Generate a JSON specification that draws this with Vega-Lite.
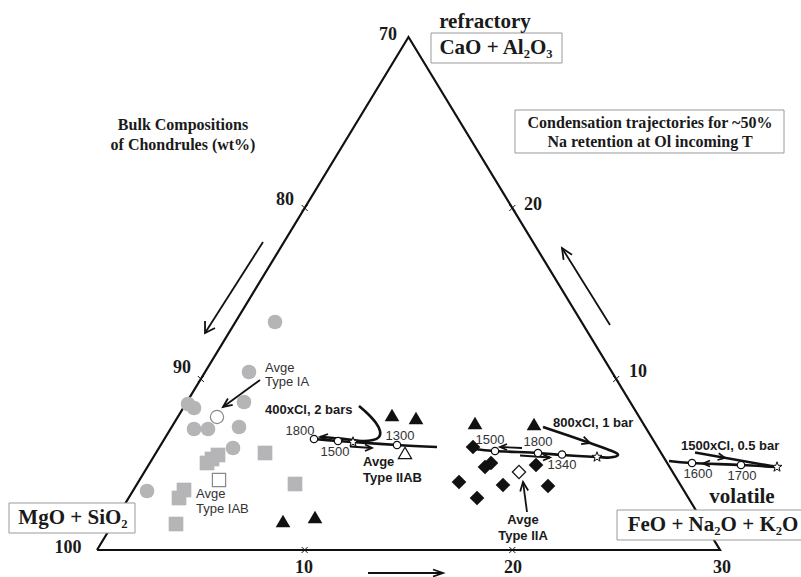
{
  "$schema": "https://vega.github.io/schema/vega-lite/v6.json",
  "width": 801,
  "height": 577,
  "padding": 0,
  "autosize": {"type": "none"},
  "background": "white",
  "config": {"view": {"stroke": null}},
  "datasets": {
    "tri": [
      {"x": 0, "y": 0, "o": 0}, {"x": 30, "y": 0, "o": 1}, {"x": 15, "y": 30, "o": 2}, {"x": 0, "y": 0, "o": 3}
    ],
    "boxes": [
      {"x": 16.083, "x2": 22.392, "y": 30.234, "y2": 28.480},
      {"x": 20.128, "x2": 33.082, "y": 25.731, "y2": 23.217},
      {"x": -4.238, "x2": 1.830, "y": 2.749, "y2": 0.994},
      {"x": 25.040, "x2": 34.093, "y": 2.339, "y2": 0.585}
    ],
    "traj": [
      {"id": "a1", "o": 0, "x": 10.449, "y": 6.491},
      {"id": "a1", "o": 1, "x": 11.605, "y": 6.374},
      {"id": "a1", "o": 2, "x": 12.327, "y": 6.316},
      {"id": "a1", "o": 3, "x": 14.446, "y": 6.140},
      {"id": "a1", "o": 4, "x": 16.372, "y": 6.023},
      {"id": "a2", "o": 0, "x": 12.616, "y": 8.421},
      {"id": "a2", "o": 1, "x": 13.050, "y": 7.953},
      {"id": "a2", "o": 2, "x": 13.435, "y": 7.427},
      {"id": "a2", "o": 3, "x": 13.628, "y": 6.959},
      {"id": "a2", "o": 4, "x": 13.579, "y": 6.608},
      {"id": "a2", "o": 5, "x": 13.291, "y": 6.433},
      {"id": "a2", "o": 6, "x": 12.761, "y": 6.374},
      {"id": "a2", "o": 7, "x": 11.942, "y": 6.491},
      {"id": "a2", "o": 8, "x": 10.738, "y": 6.608},
      {"id": "b1", "o": 0, "x": 21.477, "y": 7.193},
      {"id": "b1", "o": 1, "x": 23.740, "y": 6.257},
      {"id": "b1", "o": 2, "x": 24.799, "y": 5.789},
      {"id": "b1", "o": 3, "x": 25.088, "y": 5.556},
      {"id": "b1", "o": 4, "x": 24.703, "y": 5.409},
      {"id": "b1", "o": 5, "x": 24.077, "y": 5.439},
      {"id": "b1", "o": 6, "x": 22.392, "y": 5.556},
      {"id": "b1", "o": 7, "x": 21.236, "y": 5.673},
      {"id": "b1", "o": 8, "x": 19.165, "y": 5.789},
      {"id": "b1", "o": 9, "x": 18.202, "y": 5.906},
      {"id": "c1", "o": 0, "x": 28.796, "y": 5.702},
      {"id": "c1", "o": 1, "x": 32.745, "y": 4.854},
      {"id": "c2", "o": 0, "x": 32.745, "y": 4.854},
      {"id": "c2", "o": 1, "x": 31.011, "y": 4.971},
      {"id": "c2", "o": 2, "x": 28.652, "y": 5.088},
      {"id": "c2", "o": 3, "x": 27.544, "y": 5.205}
    ],
    "arrows": [
      {"id": "p1", "o": 0, "x": 11.124, "y": 6.784}, {"id": "p1", "o": 1, "x": 10.738, "y": 6.608}, {"id": "p1", "o": 2, "x": 11.124, "y": 6.433},
      {"id": "p2", "o": 0, "x": 12.183, "y": 6.053}, {"id": "p2", "o": 1, "x": 13.242, "y": 5.965},
      {"id": "p3", "o": 0, "x": 12.905, "y": 6.170}, {"id": "p3", "o": 1, "x": 13.242, "y": 5.965}, {"id": "p3", "o": 2, "x": 12.905, "y": 5.789},
      {"id": "p4", "o": 0, "x": 23.311, "y": 6.187}, {"id": "p4", "o": 1, "x": 23.740, "y": 6.257}, {"id": "p4", "o": 2, "x": 23.436, "y": 6.632},
      {"id": "p5", "o": 0, "x": 20.465, "y": 5.965}, {"id": "p5", "o": 1, "x": 19.406, "y": 6.023},
      {"id": "p6", "o": 0, "x": 19.743, "y": 6.199}, {"id": "p6", "o": 1, "x": 19.406, "y": 6.023}, {"id": "p6", "o": 2, "x": 19.743, "y": 5.848},
      {"id": "p7", "o": 0, "x": 20.369, "y": 5.526}, {"id": "p7", "o": 1, "x": 21.814, "y": 5.409},
      {"id": "p8", "o": 0, "x": 21.477, "y": 5.585}, {"id": "p8", "o": 1, "x": 21.814, "y": 5.409}, {"id": "p8", "o": 2, "x": 21.477, "y": 5.234},
      {"id": "p9", "o": 0, "x": 29.880, "y": 5.263}, {"id": "p9", "o": 1, "x": 30.241, "y": 5.392}, {"id": "p9", "o": 2, "x": 29.937, "y": 5.661},
      {"id": "p10", "o": 0, "x": 29.518, "y": 5.234}, {"id": "p10", "o": 1, "x": 29.181, "y": 5.059}, {"id": "p10", "o": 2, "x": 29.518, "y": 4.883},
      {"id": "q1", "o": 0, "x": 7.994, "y": 18.012}, {"id": "q1", "o": 1, "x": 5.201, "y": 12.690},
      {"id": "q2", "o": 0, "x": 5.201, "y": 13.392}, {"id": "q2", "o": 1, "x": 5.201, "y": 12.690}, {"id": "q2", "o": 2, "x": 5.682, "y": 12.983},
      {"id": "q3", "o": 0, "x": 24.703, "y": 13.158}, {"id": "q3", "o": 1, "x": 22.392, "y": 17.661},
      {"id": "q4", "o": 0, "x": 22.873, "y": 17.269}, {"id": "q4", "o": 1, "x": 22.392, "y": 17.661}, {"id": "q4", "o": 2, "x": 22.469, "y": 16.965},
      {"id": "q5", "o": 0, "x": 13.050, "y": -1.345}, {"id": "q5", "o": 1, "x": 16.661, "y": -1.345},
      {"id": "q6", "o": 0, "x": 16.180, "y": -1.140}, {"id": "q6", "o": 1, "x": 16.661, "y": -1.345}, {"id": "q6", "o": 2, "x": 16.180, "y": -1.550},
      {"id": "q7", "o": 0, "x": 7.849, "y": 9.942}, {"id": "q7", "o": 1, "x": 6.067, "y": 8.363},
      {"id": "q8", "o": 0, "x": 6.303, "y": 8.860}, {"id": "q8", "o": 1, "x": 6.067, "y": 8.363}, {"id": "q8", "o": 2, "x": 6.535, "y": 8.486},
      {"id": "q9", "o": 0, "x": 20.706, "y": 2.222}, {"id": "q9", "o": 1, "x": 20.514, "y": 3.977},
      {"id": "q10", "o": 0, "x": 20.764, "y": 3.485}, {"id": "q10", "o": 1, "x": 20.514, "y": 3.977}, {"id": "q10", "o": 2, "x": 20.379, "y": 3.427}
    ],
    "pts": [
      {"type": "IA", "x": 8.571, "y": 13.333},
      {"type": "IA", "x": 7.319, "y": 10.409},
      {"type": "IA", "x": 4.382, "y": 8.538},
      {"type": "IA", "x": 4.671, "y": 8.304},
      {"type": "IA", "x": 7.079, "y": 8.655},
      {"type": "IA", "x": 4.671, "y": 7.076},
      {"type": "IA", "x": 5.345, "y": 7.076},
      {"type": "IA", "x": 6.838, "y": 7.193},
      {"type": "IA", "x": 6.549, "y": 5.965},
      {"type": "IA", "x": 2.408, "y": 3.450},
      {"type": "IB", "x": 8.090, "y": 5.673},
      {"type": "IB", "x": 9.534, "y": 3.860},
      {"type": "IB", "x": 3.804, "y": 1.520},
      {"type": "IB", "x": 5.827, "y": 5.556},
      {"type": "IB", "x": 5.538, "y": 5.322},
      {"type": "IB", "x": 5.297, "y": 5.088},
      {"type": "IB", "x": 4.189, "y": 3.509},
      {"type": "IB", "x": 3.949, "y": 3.041},
      {"type": "IIAB", "x": 14.205, "y": 7.895},
      {"type": "IIAB", "x": 15.361, "y": 7.719},
      {"type": "IIAB", "x": 18.202, "y": 7.427},
      {"type": "IIAB", "x": 21.043, "y": 7.368},
      {"type": "IIAB", "x": 8.957, "y": 1.696},
      {"type": "IIAB", "x": 10.498, "y": 1.930},
      {"type": "IIA", "x": 18.106, "y": 6.023},
      {"type": "IIA", "x": 18.684, "y": 4.854},
      {"type": "IIA", "x": 18.973, "y": 5.088},
      {"type": "IIA", "x": 17.432, "y": 3.977},
      {"type": "IIA", "x": 18.299, "y": 3.041},
      {"type": "IIA", "x": 19.551, "y": 3.801},
      {"type": "IIA", "x": 21.140, "y": 4.971},
      {"type": "IIA", "x": 21.717, "y": 3.743}
    ],
    "avg": [
      {"type": "IA", "x": 5.778, "y": 7.778},
      {"type": "IB", "x": 5.875, "y": 4.094},
      {"type": "IIAB", "x": 14.831, "y": 5.673},
      {"type": "IIA", "x": 20.321, "y": 4.561}
    ],
    "tpts": [
      {"x": 10.449, "y": 6.491}, {"x": 11.605, "y": 6.374}, {"x": 14.446, "y": 6.140},
      {"x": 19.165, "y": 5.789}, {"x": 21.236, "y": 5.673}, {"x": 22.392, "y": 5.585},
      {"x": 28.652, "y": 5.088}, {"x": 31.011, "y": 4.971}
    ],
    "stars": [
      {"x": 12.327, "y": 6.316}, {"x": 24.077, "y": 5.439}, {"x": 32.745, "y": 4.854}
    ],
    "ticks": [
      {"x": 5, "y": 10}, {"x": 10, "y": 20}, {"x": 25, "y": 10}, {"x": 20, "y": 20}, {"x": 10, "y": 0}, {"x": 20, "y": 0}
    ],
    "serifBig": [
      {"t": "refractory", "x": 18.684, "y": 30.877},
      {"t": "CaO + Al₂O₃", "x": 19.213, "y": 29.357},
      {"t": "MgO + SiO₂", "x": -1.156, "y": 1.871},
      {"t": "FeO + Na₂O + K₂O", "x": 29.663, "y": 1.462},
      {"t": "volatile", "x": 31.059, "y": 3.099}
    ],
    "serifTicks": [
      {"t": "70", "x": 14.013, "y": 30.117},
      {"t": "80", "x": 9.053, "y": 20.468},
      {"t": "90", "x": 4.093, "y": 10.643},
      {"t": "100", "x": -1.396, "y": 0.117},
      {"t": "10", "x": 9.968, "y": -1.053},
      {"t": "20", "x": 20.032, "y": -1.053},
      {"t": "30", "x": 30.096, "y": -1.053},
      {"t": "20", "x": 20.995, "y": 20.176},
      {"t": "10", "x": 26.051, "y": 10.409}
    ],
    "serifMid": [
      {"t": "Bulk Compositions", "x": 4.141, "y": 24.854},
      {"t": "of Chondrules (wt%)", "x": 4.141, "y": 23.684},
      {"t": "Condensation trajectories for ~50%", "x": 26.629, "y": 24.971},
      {"t": "Na retention at Ol incoming T", "x": 26.629, "y": 23.860}
    ],
    "sansLeft": [
      {"t": "Avge", "x": 8.090, "y": 10.643},
      {"t": "Type IA", "x": 8.090, "y": 9.824},
      {"t": "Avge", "x": 4.767, "y": 3.275},
      {"t": "Type IAB", "x": 4.767, "y": 2.398}
    ],
    "sansCenter": [
      {"t": "1800", "x": 9.775, "y": 6.959},
      {"t": "1500", "x": 11.461, "y": 5.731},
      {"t": "1300", "x": 14.591, "y": 6.667},
      {"t": "1500", "x": 18.925, "y": 6.433},
      {"t": "1800", "x": 21.236, "y": 6.316},
      {"t": "1340", "x": 22.392, "y": 4.971},
      {"t": "1600", "x": 28.941, "y": 4.444},
      {"t": "1700", "x": 31.059, "y": 4.327}
    ],
    "boldLeft": [
      {"t": "400xCl, 2 bars", "x": 8.090, "y": 8.187},
      {"t": "Avge", "x": 12.809, "y": 5.146},
      {"t": "Type IIAB", "x": 12.809, "y": 4.211},
      {"t": "800xCl, 1 bar", "x": 21.958, "y": 7.427},
      {"t": "1500xCl, 0.5 bar", "x": 28.122, "y": 6.082}
    ],
    "boldCenter": [
      {"t": "Avge", "x": 20.514, "y": 1.754},
      {"t": "Type IIA", "x": 20.514, "y": 0.819}
    ]
  },
  "encoding": {
    "x": {"field": "x", "type": "quantitative", "scale": {"domain": [-4.671, 33.9], "nice": false, "zero": false}, "axis": null},
    "y": {"field": "y", "type": "quantitative", "scale": {"domain": [-1.579, 32.164], "nice": false, "zero": false}, "axis": null}
  },
  "layer": [
    {
      "data": {"name": "tri"},
      "mark": {"type": "line", "color": "#111111", "strokeWidth": 2.2, "strokeJoin": "miter"},
      "encoding": {"order": {"field": "o", "type": "quantitative"}}
    },
    {
      "data": {"name": "boxes"},
      "mark": {"type": "rect", "fill": "white", "stroke": "#9a9a9a", "strokeWidth": 1},
      "encoding": {"x2": {"field": "x2"}, "y2": {"field": "y2"}}
    },
    {
      "data": {"name": "arrows"},
      "mark": {"type": "line", "color": "#111111", "strokeWidth": 1.8, "strokeJoin": "miter"},
      "encoding": {"detail": {"field": "id", "type": "nominal"}, "order": {"field": "o", "type": "quantitative"}}
    },
    {
      "data": {"name": "traj"},
      "mark": {"type": "line", "color": "#111111", "strokeWidth": 2.6, "interpolate": "cardinal"},
      "encoding": {"detail": {"field": "id", "type": "nominal"}, "order": {"field": "o", "type": "quantitative"}}
    },
    {
      "data": {"name": "pts"},
      "mark": {"type": "point", "filled": true, "opacity": 1, "strokeWidth": 0},
      "encoding": {
        "shape": {"field": "type", "type": "nominal", "scale": {"domain": ["IA", "IB", "IIAB", "IIA"], "range": ["circle", "square", "triangle-up", "diamond"]}, "legend": null},
        "color": {"field": "type", "type": "nominal", "scale": {"domain": ["IA", "IB", "IIAB", "IIA"], "range": ["#b5b5b7", "#b5b5b7", "#111111", "#111111"]}, "legend": null},
        "size": {"field": "type", "type": "nominal", "scale": {"domain": ["IA", "IB", "IIAB", "IIA"], "range": [215, 215, 185, 200]}, "legend": null}
      }
    },
    {
      "data": {"name": "avg"},
      "mark": {"type": "point", "filled": true, "fill": "white", "opacity": 1, "strokeWidth": 1.2, "size": 175},
      "encoding": {
        "shape": {"field": "type", "type": "nominal", "legend": null},
        "stroke": {"field": "type", "type": "nominal", "scale": {"domain": ["IA", "IB", "IIAB", "IIA"], "range": ["#8a8a8a", "#8a8a8a", "#111111", "#111111"]}, "legend": null}
      }
    },
    {
      "data": {"name": "tpts"},
      "mark": {"type": "point", "shape": "circle", "filled": true, "fill": "white", "stroke": "#111111", "strokeWidth": 1.2, "size": 55, "opacity": 1}
    },
    {
      "data": {"name": "stars"},
      "mark": {"type": "point", "shape": "M0,-1L0.235,-0.324L0.951,-0.309L0.38,0.124L0.588,0.809L0,0.4L-0.588,0.809L-0.38,0.124L-0.951,-0.309L-0.235,-0.324Z", "filled": true, "fill": "white", "stroke": "#111111", "strokeWidth": 1, "size": 110, "opacity": 1}
    },
    {
      "data": {"name": "ticks"},
      "mark": {"type": "point", "shape": "M-1,-1L1,1M-1,1L1,-1", "filled": false, "stroke": "#111111", "strokeWidth": 1, "size": 36, "opacity": 1}
    },
    {
      "data": {"name": "serifBig"},
      "mark": {"type": "text", "font": "Liberation Serif", "fontWeight": "bold", "fontSize": 21, "align": "center", "baseline": "middle", "color": "#1a1a1a"},
      "encoding": {"text": {"field": "t"}}
    },
    {
      "data": {"name": "serifTicks"},
      "mark": {"type": "text", "font": "Liberation Serif", "fontWeight": "bold", "fontSize": 18, "align": "center", "baseline": "middle", "color": "#1a1a1a"},
      "encoding": {"text": {"field": "t"}}
    },
    {
      "data": {"name": "serifMid"},
      "mark": {"type": "text", "font": "Liberation Serif", "fontWeight": "bold", "fontSize": 16, "align": "center", "baseline": "middle", "color": "#1a1a1a"},
      "encoding": {"text": {"field": "t"}}
    },
    {
      "data": {"name": "sansLeft"},
      "mark": {"type": "text", "font": "Liberation Sans", "fontSize": 13, "align": "left", "baseline": "middle", "color": "#333333"},
      "encoding": {"text": {"field": "t"}}
    },
    {
      "data": {"name": "sansCenter"},
      "mark": {"type": "text", "font": "Liberation Sans", "fontSize": 13, "align": "center", "baseline": "middle", "color": "#333333"},
      "encoding": {"text": {"field": "t"}}
    },
    {
      "data": {"name": "boldLeft"},
      "mark": {"type": "text", "font": "Liberation Sans", "fontWeight": "bold", "fontSize": 13, "align": "left", "baseline": "middle", "color": "#1a1a1a"},
      "encoding": {"text": {"field": "t"}}
    },
    {
      "data": {"name": "boldCenter"},
      "mark": {"type": "text", "font": "Liberation Sans", "fontWeight": "bold", "fontSize": 13, "align": "center", "baseline": "middle", "color": "#1a1a1a"},
      "encoding": {"text": {"field": "t"}}
    }
  ]
}
